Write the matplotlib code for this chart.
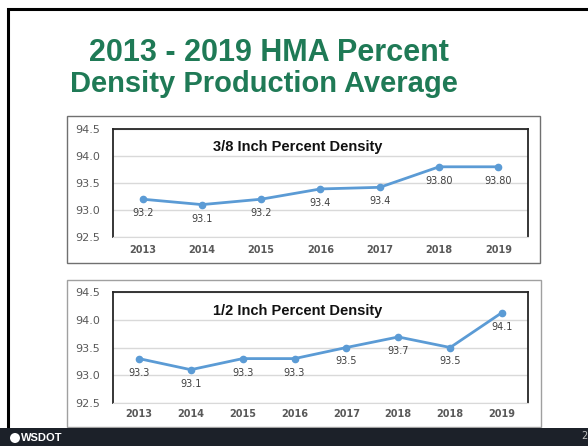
# recreates the WSDOT slide: 2013-2019 HMA percent density production average
import matplotlib
matplotlib.use("Agg")
import matplotlib.pyplot as plt
from matplotlib.patches import Rectangle, Ellipse

# 3/8 inch mix
years_38 = ["2013", "2014", "2015", "2016", "2017", "2018", "2019"]
density_38 = [93.2, 93.1, 93.2, 93.39, 93.42, 93.8, 93.8]
labels_38 = ["93.2", "93.1", "93.2", "93.4", "93.4", "93.80", "93.80"]

# 1/2 inch mix (the slide really does show 2018 twice)
years_12 = ["2013", "2014", "2015", "2016", "2017", "2018", "2018", "2019"]
density_12 = [93.3, 93.1, 93.3, 93.3, 93.5, 93.69, 93.5, 94.13]
labels_12 = ["93.3", "93.1", "93.3", "93.3", "93.5", "93.7", "93.5", "94.1"]

y_ticks = [92.5, 93.0, 93.5, 94.0, 94.5]

W, H = 588, 446
BLUE = "#5b9bd5"
GREEN = "#1f7a56"


def box(x, y, w, h):
    # pixel box (top-left origin) -> figure fraction rect
    return [x / W, 1 - (y + h) / H, w / W, h / H]


def add_rect(fig, x, y, w, h, **kw):
    l, b, ww, hh = box(x, y, w, h)
    fig.patches.append(Rectangle((l, b), ww, hh, transform=fig.transFigure,
                                 zorder=-5, **kw))


def density_chart(fig, rect, cats, vals, labels, title, xpad):
    ax = fig.add_axes(rect)
    ax.set_facecolor("none")
    xs = list(range(len(cats)))
    ax.plot(xs, vals, color=BLUE, lw=2, marker="o", ms=4.5, zorder=3)
    for x, v, t in zip(xs, vals, labels):
        ax.annotate(t, (x, v), xytext=(0, -14), textcoords="offset pixels",
                    ha="center", va="center", fontsize=7, color="#404040",
                    family="DejaVu Sans")
    ax.set_xlim(-0.5, len(cats) - 0.5)
    ax.set_ylim(92.5, 94.5)
    ax.set_yticks(y_ticks)
    ax.set_yticklabels([f"{t:.1f}" for t in y_ticks])
    ax.set_xticks(xs)
    ax.set_xticklabels(cats)
    ax.tick_params(axis="y", length=0, pad=9, labelsize=8, labelcolor="#595959")
    ax.tick_params(axis="x", length=0, pad=xpad, labelsize=7, labelcolor="#595959")
    for lab in ax.get_xticklabels():
        lab.set_fontweight("semibold")
    ax.grid(axis="y", color="#d9d9d9", lw=1)
    ax.set_axisbelow(True)
    for s in ["left", "top", "right"]:
        ax.spines[s].set_color("#262626")
        ax.spines[s].set_linewidth(1.3)
    ax.spines["bottom"].set_color("#d9d9d9")
    ax.text(0.445, 0.83, title, transform=ax.transAxes, ha="center", va="center",
            fontsize=10.5, fontweight="bold", family="Liberation Sans", color="#111111")
    return ax


fig = plt.figure(figsize=(W / 100, H / 100), dpi=100)
fig.patch.set_facecolor("white")

# slide frame (black, left + top) and bottom bar
add_rect(fig, 8, 9, 600, 440, fill=False, ec="black", lw=2.2)

# chart frames
add_rect(fig, 67, 116, 473, 147, fc="white", ec="#707070", lw=1)
add_rect(fig, 67, 280, 474, 147, fc="white", ec="#a0a0a0", lw=1)
add_rect(fig, 0, 428, W, 18, fc="#1c2129", ec="none")

fig.text(269 / W, 1 - 53 / H, "2013 - 2019 HMA Percent", ha="center", va="center",
         fontsize=22, fontweight="bold", family="Liberation Sans", color=GREEN)
fig.text(264 / W, 1 - 84 / H, "Density Production Average", ha="center", va="center",
         fontsize=21, fontweight="bold", family="Liberation Sans", color=GREEN)

density_chart(fig, box(113, 129, 415, 108), years_38, density_38, labels_38,
              "3/8 Inch Percent Density", 6)
density_chart(fig, box(113, 292, 415, 111), years_12, density_12, labels_12,
              "1/2 Inch Percent Density", 4)

# footer: logo + page number
fig.patches.append(Ellipse((15 / W, 1 - 438 / H), 10 / W, 10 / H,
                           transform=fig.transFigure, fc="white", ec="none"))
fig.text(21 / W, 1 - 438 / H, "WSDOT", ha="left", va="center", fontsize=8,
         fontweight="bold", family="Liberation Sans", color="white")
fig.text(581 / W, 1 - 436 / H, "2", ha="left", va="center", fontsize=7, color="#bfbfbf")

fig.savefig("out.png", dpi=100)
